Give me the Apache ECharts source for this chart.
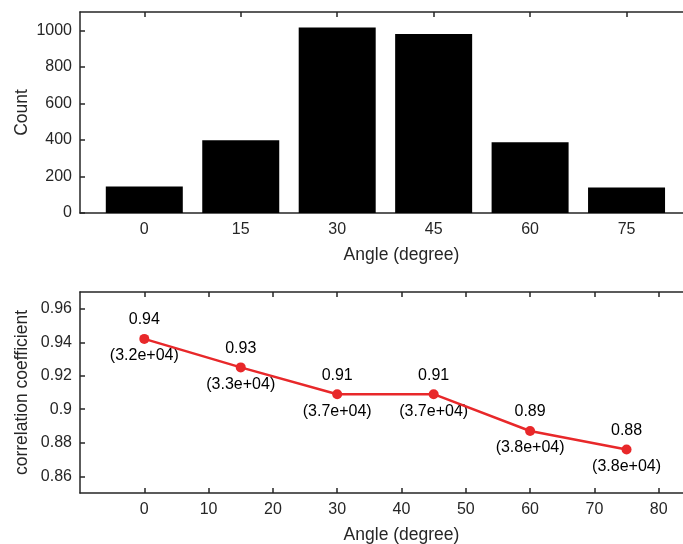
<!DOCTYPE html>
<html>
<head>
<meta charset="utf-8">
<script src="https://cdn.jsdelivr.net/npm/echarts@6/dist/echarts.min.js"></script>
<style>
  html, body { margin: 0; padding: 0; background: #fff; }
  #chart { width: 683px; height: 544px; }
</style>
</head>
<body>
<div id="chart"></div>
<script>
// data
const angles = [0, 15, 30, 45, 60, 75];
const counts = [145, 398, 1015, 980, 387, 140];
const corr = [0.942, 0.925, 0.909, 0.909, 0.887, 0.876];
const samples = [32000, 33000, 37000, 37000, 38000, 38000];

const barXTicks = [0, 15, 30, 45, 60, 75];
const countTicks = [0, 200, 400, 600, 800, 1000];
const lineXTicks = [0, 10, 20, 30, 40, 50, 60, 70, 80];
const corrTicks = [0.86, 0.88, 0.9, 0.92, 0.94, 0.96];

const ink = '#262626';
const font = "'Liberation Sans', Arial, Helvetica, sans-serif";
const red = '#e8282a';

// 3.2e+04 style, like matlab's %.1e
function sci(v) {
  const [m, e] = v.toExponential(1).split('e');
  const sign = e[0] === '-' ? '-' : '+';
  const digits = e.replace(/[+-]/, '').padStart(2, '0');
  return '(' + m + 'e' + sign + digits + ')';
}

function xAxisOf(grid, ticks, withLabels, name) {
  return {
    type: 'value',
    gridIndex: grid,
    position: withLabels ? 'bottom' : 'top',
    min: -10,
    max: 90,
    name: name,
    nameLocation: 'middle',
    nameGap: 33,
    nameTextStyle: { color: ink, fontSize: 17.5, fontFamily: font },
    axisLine: { show: true, onZero: false, lineStyle: { color: ink, width: 1.5 } },
    axisTick: { show: true, inside: true, length: 5, customValues: ticks, lineStyle: { color: ink, width: 1.5 } },
    axisLabel: { show: withLabels, customValues: ticks, color: ink, fontSize: 16, fontFamily: font, margin: 9 },
    splitLine: { show: false }
  };
}

function yAxisOf(grid, min, max, ticks, name, gap) {
  return {
    type: 'value',
    gridIndex: grid,
    min: min,
    max: max,
    name: name,
    nameLocation: 'middle',
    nameGap: gap,
    nameMoveOverlap: false,
    nameTextStyle: { color: ink, fontSize: 17.5, fontFamily: font },
    axisLine: { show: true, onZero: false, lineStyle: { color: ink, width: 1.5 } },
    axisTick: { show: true, inside: true, length: 5, customValues: ticks, lineStyle: { color: ink, width: 1.5 } },
    axisLabel: { customValues: ticks, color: ink, fontSize: 16, fontFamily: font, margin: 8, formatter: v => String(v) },
    splitLine: { show: false }
  };
}

const pts = angles.map((a, i) => [a, corr[i]]);

const chart = echarts.init(document.getElementById('chart'));
chart.setOption({
  animation: false,
  grid: [
    { left: 80, top: 12, width: 643, height: 201, outerBoundsMode: 'none' },
    { left: 80, top: 292, width: 643, height: 201, outerBoundsMode: 'none' }
  ],
  xAxis: [
    xAxisOf(0, barXTicks, true, 'Angle (degree)'),
    xAxisOf(0, barXTicks, false),
    xAxisOf(1, lineXTicks, true, 'Angle (degree)'),
    xAxisOf(1, lineXTicks, false)
  ],
  yAxis: [
    yAxisOf(0, 0, 1100, countTicks, 'Count', 49),
    yAxisOf(1, 0.85, 0.97, corrTicks, 'correlation coefficient', 49)
  ],
  series: [
    {
      type: 'bar',
      xAxisIndex: 0,
      yAxisIndex: 0,
      barWidth: 77,
      itemStyle: { color: '#000' },
      data: angles.map((a, i) => [a, counts[i]])
    },
    {
      type: 'line',
      xAxisIndex: 2,
      yAxisIndex: 1,
      symbol: 'circle',
      symbolSize: 10,
      lineStyle: { color: red, width: 2.5 },
      itemStyle: { color: red },
      label: {
        show: true,
        position: 'top',
        distance: 6,
        color: '#000',
        fontSize: 16,
        fontFamily: font,
        formatter: p => corr[p.dataIndex].toFixed(2)
      },
      data: pts
    },
    {
      type: 'scatter',
      xAxisIndex: 2,
      yAxisIndex: 1,
      symbolSize: 10,
      itemStyle: { color: 'transparent', opacity: 1 },
      label: {
        show: true,
        position: 'bottom',
        distance: 4,
        color: '#000',
        opacity: 1,
        fontSize: 16,
        fontFamily: font,
        formatter: p => sci(samples[p.dataIndex])
      },
      data: pts
    }
  ]
});
</script>
</body>
</html>
